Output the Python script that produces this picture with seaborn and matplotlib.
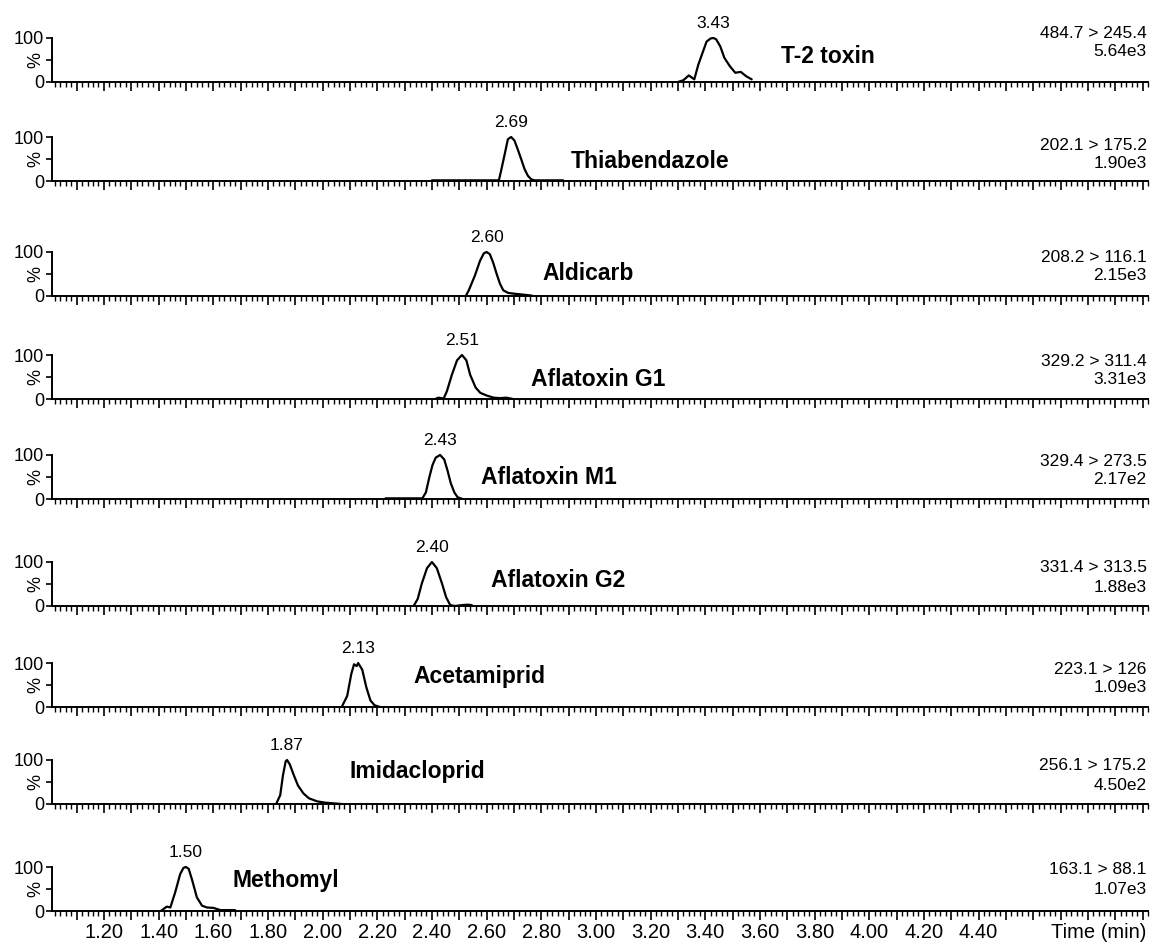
import matplotlib
matplotlib.use("Agg")
import matplotlib.pyplot as plt
import numpy as np
import pandas as pd
import seaborn as sns
from matplotlib.ticker import MultipleLocator, FixedLocator

sns.set_theme(style="ticks")
plt.rcParams['font.family'] = ['Liberation Sans', 'DejaVu Sans']
plt.rcParams['text.color'] = 'black'
plt.rcParams['xtick.color'] = 'black'
plt.rcParams['ytick.color'] = 'black'

# ---- data -----------------------------------------------------------------
compounds = ["T-2 toxin", "Thiabendazole", "Aldicarb", "Aflatoxin G1",
             "Aflatoxin M1", "Aflatoxin G2", "Acetamiprid", "Imidacloprid",
             "Methomyl"]
retention_times = [3.43, 2.69, 2.60, 2.51, 2.43, 2.40, 2.13, 1.87, 1.50]
transitions = ["484.7 > 245.4", "202.1 > 175.2", "208.2 > 116.1",
               "329.2 > 311.4", "329.4 > 273.5", "331.4 > 313.5",
               "223.1 > 126", "256.1 > 175.2", "163.1 > 88.1"]
intensities = ["5.64e3", "1.90e3", "2.15e3", "3.31e3", "2.17e2",
               "1.88e3", "1.09e3", "4.50e2", "1.07e3"]

t2_time = [3.30, 3.32, 3.34, 3.36, 3.375, 3.39, 3.405, 3.42, 3.43, 3.44,
           3.455, 3.47, 3.49, 3.51, 3.53, 3.55, 3.57]
t2_pct = [0, 4, 15, 6, 40, 66, 92, 99, 100, 97, 81, 55, 36, 21, 23, 13, 6]

thiabendazole_time = [2.40, 2.645, 2.653, 2.666, 2.678, 2.69, 2.702, 2.714,
                      2.727, 2.739, 2.751, 2.763, 2.775, 2.88]
thiabendazole_pct = [1.5, 1.5, 23, 60, 95, 100, 92, 72, 49, 27, 12, 4, 1.5, 1.5]

aldicarb_time = [2.524, 2.535, 2.557, 2.576, 2.59, 2.60, 2.612, 2.624, 2.637,
                 2.649, 2.661, 2.679, 2.704, 2.735, 2.765]
aldicarb_pct = [0, 13, 46, 80, 97, 100, 95, 76, 50, 28, 13, 7, 5, 3, 1]

aflag1_time = [2.412, 2.424, 2.443, 2.455, 2.473, 2.492, 2.51, 2.526, 2.54,
               2.56, 2.577, 2.60, 2.626, 2.65, 2.672, 2.697]
aflag1_pct = [0, 3, 1, 18, 55, 88, 100, 88, 55, 26, 14, 8, 3, 2, 3, 0]

aflam1_time = [2.23, 2.365, 2.378, 2.39, 2.402, 2.414, 2.43, 2.445, 2.457,
               2.469, 2.482, 2.494, 2.512]
aflam1_pct = [1.5, 1.5, 15, 48, 77, 94, 100, 90, 65, 36, 15, 4, 0]

aflag2_time = [2.333, 2.348, 2.363, 2.382, 2.40, 2.418, 2.437, 2.452, 2.467,
               2.485, 2.51, 2.53, 2.546]
aflag2_pct = [0, 16, 51, 86, 100, 86, 51, 20, 2, 0, 2, 3, 2]

acetamiprid_time = [2.07, 2.09, 2.105, 2.115, 2.125, 2.13, 2.145, 2.16,
                    2.175, 2.19, 2.21]
acetamiprid_pct = [0, 25, 75, 97, 93, 100, 85, 45, 15, 4, 0]

imidacloprid_time = [1.83, 1.845, 1.855, 1.865, 1.87, 1.88, 1.895, 1.91,
                     1.93, 1.95, 1.98, 2.01, 2.05, 2.07]
imidacloprid_pct = [0, 20, 65, 97, 100, 90, 65, 42, 24, 13, 6, 3, 1, 0]

methomyl_time = [1.408, 1.43, 1.443, 1.461, 1.479, 1.491, 1.50, 1.51, 1.522,
                 1.54, 1.559, 1.577, 1.601, 1.626, 1.644, 1.68]
methomyl_pct = [0, 10, 8, 43, 84, 98, 100, 96, 72, 31, 12, 8, 7, 2, 2, 2]

trace_times = [t2_time, thiabendazole_time, aldicarb_time, aflag1_time,
               aflam1_time, aflag2_time, acetamiprid_time,
               imidacloprid_time, methomyl_time]
trace_pcts = [t2_pct, thiabendazole_pct, aldicarb_pct, aflag1_pct,
              aflam1_pct, aflag2_pct, acetamiprid_pct, imidacloprid_pct,
              methomyl_pct]

time_tick_labels = ["1.20", "1.40", "1.60", "1.80", "2.00", "2.20", "2.40",
                    "2.60", "2.80", "3.00", "3.20", "3.40", "3.60", "3.80",
                    "4.00", "4.20", "4.40"]

# ---- layout (pixels of a 1151 x 950 canvas) -------------------------------
W, H = 1151, 950
AX_LEFT, AX_RIGHT = 52, 1148
PANEL_H = 44
baselines = [82, 181, 296, 399, 499, 606, 707, 804, 911]
name_pos = [(3.677, 59), (2.909, 45), (2.806, 50), (2.762, 45), (2.579, 48),
            (2.616, 59), (2.331, 70), (2.10, 73), (1.672, 70)]
info_offsets = [(49, 30), (36, 18), (39, 21), (37, 19), (38, 19), (38, 19),
                (38, 20), (39, 19), (41, 21)]
PX = 0.72  # points per pixel at dpi 100

fig = plt.figure(figsize=(W / 100, H / 100), dpi=100)
fig.patch.set_facecolor("white")

frames = []
for name, times, pcts in zip(compounds, trace_times, trace_pcts):
    frames.append(pd.DataFrame({"compound": name, "time": times, "pct": pcts}))
traces = pd.concat(frames, ignore_index=True)

n = len(compounds)
for i, name in enumerate(compounds):
    base = baselines[i]
    ax = fig.add_axes([AX_LEFT / W, (H - base) / H,
                       (AX_RIGHT - AX_LEFT) / W, PANEL_H / H])
    ax.set_facecolor("white")
    sub = traces[traces["compound"] == name]
    sns.lineplot(data=sub, x="time", y="pct", ax=ax, color="black",
                 linewidth=1.6, estimator=None, sort=False)
    for ln in ax.lines:
        ln.set_clip_on(False)
    ax.set_xlim(1.01, 5.02)
    ax.set_ylim(0, 100)
    ax.set_xlabel("")
    ax.set_ylabel("")

    for side in ("top", "right"):
        ax.spines[side].set_visible(False)
    ax.spines["left"].set_bounds(0, 100)
    for side in ("left", "bottom"):
        ax.spines[side].set_linewidth(1.4)
        ax.spines[side].set_color("black")

    ax.set_yticks([0, 50, 100])
    ax.set_yticklabels(["0", "", "100"])
    ax.tick_params(axis="y", direction="out", length=4, width=1.2,
                   pad=1.5, labelsize=13)
    ax.text(-0.015, 0.5, "%", transform=ax.transAxes, rotation=90,
            ha="center", va="center", fontsize=13)

    ax.xaxis.set_minor_locator(MultipleLocator(0.02))
    ax.tick_params(axis="x", which="major", direction="out", length=6.5,
                   width=1.2)
    ax.tick_params(axis="x", which="minor", direction="out", length=3.5,
                   width=1.0)
    major = np.round(np.arange(1.1, 5.01, 0.1), 2)
    ax.xaxis.set_major_locator(FixedLocator(major))
    if i == n - 1:
        labels = [("%.2f" % t if ("%.2f" % t) in time_tick_labels else "")
                  for t in major]
        ax.set_xticklabels(labels)
        ax.tick_params(axis="x", labelsize=14.5, pad=2)
        ax.annotate("Time (min)", xy=(1, 0), xycoords="axes fraction",
                    xytext=(-1, -21 * PX), textcoords="offset points",
                    ha="right", va="center", fontsize=14.5)
    else:
        ax.tick_params(axis="x", labelbottom=False)

    rt = retention_times[i]
    ax.annotate(f"{rt:.2f}", xy=(rt, 100), xycoords="data",
                xytext=(0, 5), textcoords="offset points",
                ha="center", va="bottom", fontsize=12.5)
    nx, ny = name_pos[i]
    ax.text(nx, ny, name, ha="left", va="center", fontsize=16.5,
            fontweight="bold")
    up, lo = info_offsets[i]
    ax.annotate(transitions[i], xy=(1, 0), xycoords="axes fraction",
                xytext=(-1, up * PX), textcoords="offset points",
                ha="right", va="center", fontsize=12.5)
    ax.annotate(intensities[i], xy=(1, 0), xycoords="axes fraction",
                xytext=(-1, lo * PX), textcoords="offset points",
                ha="right", va="center", fontsize=12.5)

fig.savefig("out.png", dpi=100, facecolor="white")
